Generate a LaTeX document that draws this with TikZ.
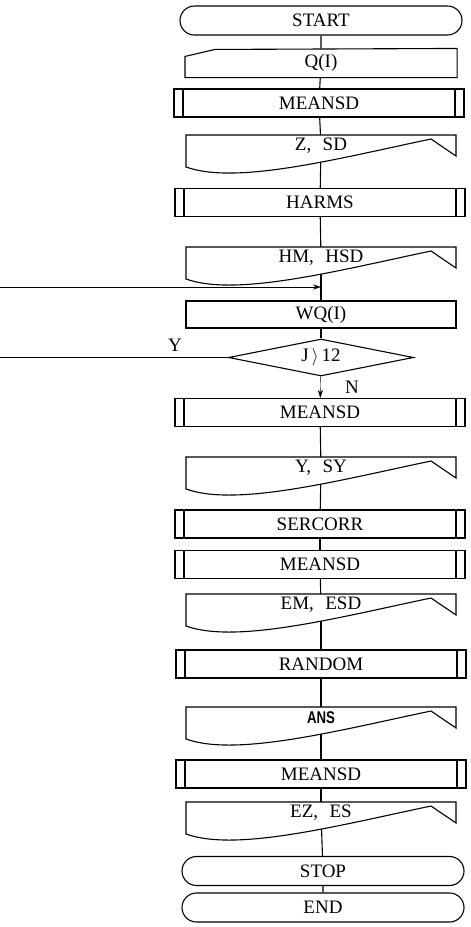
\documentclass[tikz,border=0pt]{standalone}
\usepackage{fontspec}
\usepackage{graphicx}
\setmainfont{Liberation Serif}
\newfontfamily\ansfont{Liberation Sans}
\usetikzlibrary{shapes.geometric,shapes.misc,arrows.meta}
\pgfdeclarelayer{bg}
\pgfdeclarelayer{mid}
\pgfsetlayers{bg,mid,main}
\newcommand\docoutline[1]{%
  \begin{pgfonlayer}{mid}
  \draw[docline,shift={(#1.center)}] (-135,-11) -- (135,-11) -- (135,10) -- (110,-7)
     .. controls (15,13) and (-85,39) .. (-135,21) -- cycle;
  \end{pgfonlayer}}
\begin{document}
\begin{tikzpicture}[x=1pt,y=-1pt,line width=1.1pt,
  font=\fontsize{19}{21}\selectfont,
  term/.style={rounded rectangle,draw,fill=white,minimum width=282pt,minimum height=29pt,inner sep=0pt},
  predef/.style={rectangle,draw,fill=white,minimum width=290pt,minimum height=28pt,inner sep=0pt,
    path picture={\draw ([xshift=9pt]path picture bounding box.north west) -- ([xshift=9pt]path picture bounding box.south west)
      ([xshift=-9pt]path picture bounding box.north east) -- ([xshift=-9pt]path picture bounding box.south east);}},
  proc/.style={rectangle,draw,fill=white,minimum width=270pt,minimum height=27pt,inner sep=0pt},
  manin/.style={rectangle,minimum width=271pt,minimum height=28pt,inner sep=0pt},
  doctext/.style={inner sep=1pt},
  docline/.style={draw,fill=white,line width=1.1pt,line join=miter},
  flow/.style={draw,line width=1.1pt},
  decision/.style={diamond,draw,fill=white,aspect=5,minimum width=185pt,minimum height=37pt,inner sep=0pt},
  lab/.style={inner sep=0pt},
  arr/.style={-{Stealth[length=8pt,width=5pt]}}]
\useasboundingbox (0,0) rectangle (471,927);

\node[term] (start) at (321,20.5) {START};
\node[manin] (q) at (321,63) {Q(I)};
\node[predef] (m1) at (319,103) {MEANSD};
\node[doctext] (zsd) at (321,146) {Z,\hspace{0.6em}SD};
\node[predef] (harms) at (320,202.5) {HARMS};
\node[doctext] (hm) at (321,258) {HM,\hspace{0.6em}HSD};
\coordinate (loopin) at (0,287);
\node[proc] (wq) at (321,314.5) {WQ(I)};
\node[decision] (jd) at (321,357.5) {J\,$\rangle$\,12};
\coordinate (yend) at (0,357.5);
\node[lab] (ylab) at (175,345) {Y};
\node[lab] (nlab) at (352,387) {N};
\node[predef] (m2) at (320,412.5) {MEANSD};
\node[doctext] (ysy) at (321,468) {Y,\hspace{0.6em}SY};
\node[predef] (serc) at (320,524) {SERCORR};
\node[predef] (m3) at (320,564.5) {MEANSD};
\node[doctext] (em) at (321,605) {EM,\hspace{0.6em}ESD};
\node[predef] (rand) at (321,664) {RANDOM};
\node[doctext] (ans) at (321,718) {\scalebox{0.78}[1]{\fontsize{17}{20}\ansfont\bfseries ANS}};
\node[predef] (m4) at (321,774) {MEANSD};
\node[doctext] (ez) at (321,813) {EZ,\hspace{0.6em}ES};
\node[term] (stop) at (323,871) {STOP};
\node[term] (end) at (323,907.5) {END};

\begin{pgfonlayer}{mid}
\draw[docline] ([yshift=-8pt]q.north west) -- ([xshift=30pt,yshift=-1pt]q.north west)
  -- (q.north east) -- (q.south east) -- (q.south west) -- cycle;
\end{pgfonlayer}
\docoutline{zsd}
\docoutline{hm}
\docoutline{ysy}
\docoutline{em}
\docoutline{ans}
\docoutline{ez}

\begin{pgfonlayer}{bg}
\draw[flow] (start) -- (q);
\draw[flow] (q) -- (m1);
\draw[flow] (m1) -- (zsd);
\draw[flow] (zsd) -- (harms);
\draw[flow] (harms) -- (hm);
\draw[flow] (hm) -- (wq);
\draw[flow] (wq) -- (jd);
\draw[flow] (m2) -- (ysy);
\draw[flow] (ysy) -- (serc);
\draw[flow] (serc) -- (m3);
\draw[flow] (m3) -- (em);
\draw[flow] (em) -- (rand);
\draw[flow] (rand) -- (ans);
\draw[flow] (ans) -- (m4);
\draw[flow] (m4) -- (ez);
\draw[flow] (ez) -- (stop);
\draw[flow] (stop) -- (end);
\end{pgfonlayer}

\draw[arr] (jd) -- (m2);
\draw[arr] (loopin) -- (loopin -| wq.north);
\draw (jd) -- (yend);
\end{tikzpicture}
\end{document}
